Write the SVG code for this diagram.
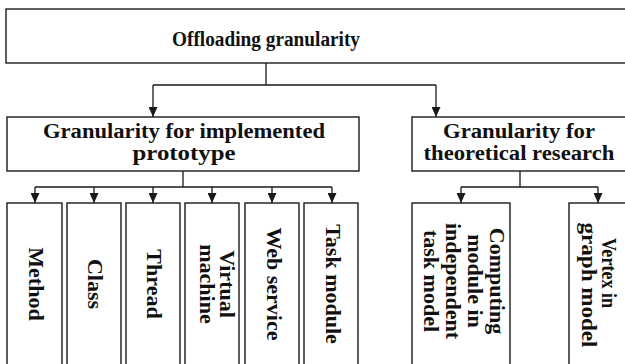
<svg xmlns="http://www.w3.org/2000/svg" width="625" height="364" viewBox="0 0 625 364">
<defs>
<marker id="ah" markerWidth="10" markerHeight="9" refX="10" refY="4.5" orient="auto" markerUnits="userSpaceOnUse" viewBox="0 0 10 9">
<path d="M0,0 L10,4.5 L0,9 Z" fill="#1a1a1a"/>
</marker>
<style>
.box{fill:#fff;stroke:#1a1a1a;stroke-width:1.4}
.ln{fill:none;stroke:#1a1a1a;stroke-width:1.3}
.ar{fill:none;stroke:#1a1a1a;stroke-width:1.3;marker-end:url(#ah)}
.t{font-family:"Liberation Serif","Times New Roman",serif;font-weight:bold;fill:#111}
.h1{font-size:20px;text-anchor:middle}
.h2{font-size:20px;text-anchor:middle}
.v{font-size:22px;text-anchor:middle}
</style>
</defs>
<rect width="625" height="364" fill="#fff"/>
<g id="connectors">
<path class="ln" d="M266,63 V85 M153,85 H436"/>
<path class="ar" d="M153,85 V117"/>
<path class="ar" d="M436,85 V117"/>
<path class="ln" d="M183,171 V187 M35,187 H332"/>
<path class="ar" d="M35,187 V203"/>
<path class="ar" d="M94,187 V203"/>
<path class="ar" d="M153,187 V203"/>
<path class="ar" d="M212,187 V203"/>
<path class="ar" d="M272,187 V203"/>
<path class="ar" d="M332,187 V203"/>
<path class="ln" d="M520,171 V187 M461,187 H598"/>
<path class="ar" d="M461,187 V203"/>
<path class="ar" d="M598,187 V203"/>
</g>
<g id="root">
<rect class="box" x="6" y="9" width="630" height="54"/>
<text class="t h1" x="266" y="46" textLength="188" lengthAdjust="spacingAndGlyphs">Offloading granularity</text>
</g>
<g id="impl">
<rect class="box" x="7" y="117" width="352" height="54"/>
<text class="t h2" x="184" y="138" textLength="282" lengthAdjust="spacingAndGlyphs">Granularity for implemented</text>
<text class="t h2" x="184" y="160" textLength="103" lengthAdjust="spacingAndGlyphs">prototype</text>
</g>
<g id="theo">
<rect class="box" x="412" y="117" width="224" height="54"/>
<text class="t h2" x="519" y="138" textLength="152" lengthAdjust="spacingAndGlyphs">Granularity for</text>
<text class="t h2" x="519" y="160" textLength="191" lengthAdjust="spacingAndGlyphs">theoretical research</text>
</g>
<g id="method">
<rect class="box" x="7" y="203" width="55" height="170"/>
<text class="t v" transform="translate(29,284) rotate(90)">Method</text>
</g>
<g id="class">
<rect class="box" x="67" y="203" width="54" height="170"/>
<text class="t v" transform="translate(88,284) rotate(90)">Class</text>
</g>
<g id="thread">
<rect class="box" x="126" y="203" width="54" height="170"/>
<text class="t v" transform="translate(147,284) rotate(90)">Thread</text>
</g>
<g id="vm">
<rect class="box" x="185" y="203" width="54" height="170"/>
<text class="t v" transform="translate(220,284) rotate(90)">Virtual</text>
<text class="t v" transform="translate(200,284) rotate(90)">machine</text>
</g>
<g id="web">
<rect class="box" x="245" y="203" width="54" height="170"/>
<text class="t v" transform="translate(267,284) rotate(90)">Web service</text>
</g>
<g id="task">
<rect class="box" x="304" y="203" width="54" height="170"/>
<text class="t v" transform="translate(326,284) rotate(90)">Task module</text>
</g>
<g id="computing">
<rect class="box" x="412" y="203" width="98" height="170"/>
<text class="t v" transform="translate(490,281) rotate(90)">Computing</text>
<text class="t v" transform="translate(468,281) rotate(90)">module in</text>
<text class="t v" transform="translate(446,281) rotate(90)">independent</text>
<text class="t v" transform="translate(424,281) rotate(90)">task model</text>
</g>
<g id="vertex">
<rect class="box" x="569" y="203" width="60" height="170"/>
<text class="t v" transform="translate(602,273) rotate(90)" textLength="70" lengthAdjust="spacingAndGlyphs">Vertex in</text>
<text class="t v" transform="translate(582,285) rotate(90)" textLength="125" lengthAdjust="spacingAndGlyphs">graph model</text>
</g>
</svg>
